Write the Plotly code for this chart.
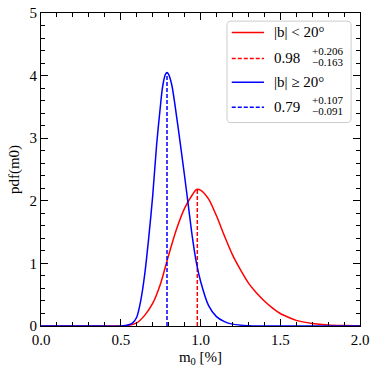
import plotly.graph_objects as go

# values
m0_red = [0.0, 0.3, 0.5, 0.55, 0.6, 0.65, 0.7, 0.75, 0.8, 0.85, 0.9, 0.95, 0.975,
          1.0, 1.05, 1.1, 1.15, 1.2, 1.25, 1.3, 1.35, 1.4, 1.45, 1.5, 1.55, 1.6, 1.7,
          1.8, 1.9, 2.0]
pdf_red = [0.0, 0.0, 0.0, 0.01, 0.05, 0.17, 0.36, 0.68, 1.13, 1.55, 1.88, 2.10, 2.18,
           2.17, 2.03, 1.76, 1.44, 1.14, 0.90, 0.69, 0.53, 0.40, 0.29, 0.20, 0.14, 0.09, 0.04,
           0.015, 0.006, 0.002]

m0_blue = [0.0, 0.3, 0.5, 0.55, 0.575, 0.6, 0.625, 0.65, 0.675, 0.7, 0.725, 0.75, 0.76,
           0.77, 0.78, 0.79, 0.8, 0.82, 0.85, 0.875, 0.9, 0.925, 0.95, 0.975,
           1.0, 1.05, 1.1, 1.15, 1.2, 1.3, 1.4, 2.0]
pdf_blue = [0.0, 0.0, 0.0, 0.02, 0.05, 0.14, 0.40, 0.82, 1.40, 2.07, 2.90, 3.55, 3.78,
            3.93, 4.02, 4.05, 4.02, 3.85, 3.35, 2.88, 2.40, 1.90, 1.40, 1.00,
            0.72, 0.33, 0.15, 0.07, 0.03, 0.005, 0.0, 0.0]

red_mode, red_peak = 0.98, 2.18
blue_mode, blue_peak = 0.79, 4.05

legend_rows = [
    ("solid", "red", "|b| &lt; 20°", None),
    ("4px,2px", "red", "0.98", ("+0.206", "−0.163")),
    ("solid", "blue", "|b| ≥ 20°", None),
    ("4px,2px", "blue", "0.79", ("+0.107", "−0.091")),
]

FONT = "Liberation Serif"

fig = go.Figure()
fig.add_trace(go.Scatter(x=m0_red, y=pdf_red, mode="lines", line=dict(color="red", width=1.5, shape="spline", smoothing=0.8)))
fig.add_trace(go.Scatter(x=[red_mode, red_mode], y=[0, red_peak], mode="lines", line=dict(color="red", width=1.5, dash="4px,2px")))
fig.add_trace(go.Scatter(x=m0_blue, y=pdf_blue, mode="lines", line=dict(color="blue", width=1.5, shape="spline", smoothing=0.8)))
fig.add_trace(go.Scatter(x=[blue_mode, blue_mode], y=[0, blue_peak], mode="lines", line=dict(color="blue", width=1.5, dash="4px,2px")))

# hand-made legend (stacked super/subscripts)
x0, x1, y0, y1, r = 0.583, 0.972, 0.650, 0.974, 0.013
path = (f"M {x0+r},{y0} L {x1-r},{y0} Q {x1},{y0} {x1},{y0+r} L {x1},{y1-r} Q {x1},{y1} {x1-r},{y1} "
        f"L {x0+r},{y1} Q {x0},{y1} {x0},{y1-r} L {x0},{y0+r} Q {x0},{y0} {x0+r},{y0} Z")
fig.add_shape(type="path", path=path, xref="paper", yref="paper",
              line=dict(color="#cccccc", width=1), fillcolor="rgba(255,255,255,0.8)")
row_y = [0.938, 0.855, 0.779, 0.699]
for (dash, col, txt, err), yy in zip(legend_rows, row_y):
    fig.add_shape(type="line", xref="paper", yref="paper", x0=0.598, x1=0.699, y0=yy, y1=yy,
                  line=dict(color=col, width=1.5, dash=dash))
    fig.add_annotation(x=0.724, y=yy, xref="paper", yref="paper", text=txt, showarrow=False,
                       xanchor="left", yanchor="middle", font=dict(family=FONT, size=15, color="black"))
    if err:
        fig.add_annotation(x=0.842, y=yy + 0.022, xref="paper", yref="paper", text=err[0], showarrow=False,
                           xanchor="left", yanchor="middle", font=dict(family=FONT, size=11, color="black"))
        fig.add_annotation(x=0.842, y=yy - 0.013, xref="paper", yref="paper", text=err[1], showarrow=False,
                           xanchor="left", yanchor="middle", font=dict(family=FONT, size=11, color="black"))

axis_common = dict(showgrid=False, zeroline=False, showline=True, linecolor="black", linewidth=1,
                   mirror="allticks", ticks="inside", ticklen=7, tickcolor="black", tickwidth=1,
                   ticklabeloverflow="allow",
                   tickfont=dict(family=FONT, size=15, color="black"))
fig.update_xaxes(range=[0, 2], tick0=0, dtick=0.5, tickformat=".1f",
                 minor=dict(dtick=0.1, ticks="inside", ticklen=4, tickcolor="black"),
                 title=dict(text="m<sub>0</sub> [%]", font=dict(family=FONT, size=15, color="black"), standoff=4),
                 **axis_common)
fig.update_yaxes(range=[0, 5], tick0=0, dtick=1,
                 minor=dict(dtick=0.2, ticks="inside", ticklen=4, tickcolor="black"),
                 title=dict(text="pdf(m0)", font=dict(family=FONT, size=15, color="black"), standoff=6),
                 **axis_common)
fig.update_layout(width=374, height=368, margin=dict(l=41, r=10, t=5, b=42),
                  plot_bgcolor="white", paper_bgcolor="white", showlegend=False)
fig.write_html("out.html", config={"displayModeBar": False},
               post_script="document.body.style.margin='0';")
